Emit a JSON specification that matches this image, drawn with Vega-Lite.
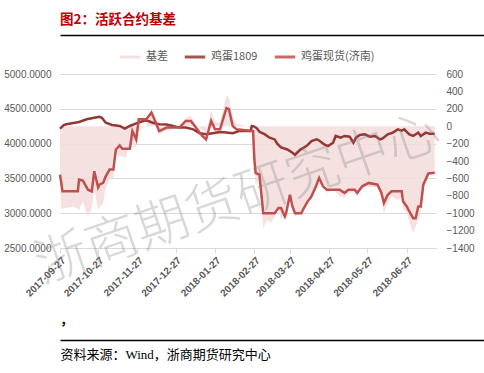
{
  "$schema": "https://vega.github.io/schema/vega-lite/v6.json",
  "padding": {"top": 12, "left": 3, "right": 3, "bottom": 3},
  "background": "white",
  "spacing": 10,
  "resolve": {"scale": {"color": "independent"}, "legend": {"color": "independent"}},
  "config": {"view": {"stroke": null}, "font": "Liberation Sans"},
  "datasets": {
    "lines": [
      {"d":"2017-09-27","s":"鸡蛋1809","v":4215},{"d":"2017-09-30","s":"鸡蛋1809","v":4265},{"d":"2017-10-02","s":"鸡蛋1809","v":4278},{"d":"2017-10-12","s":"鸡蛋1809","v":4310},{"d":"2017-10-18","s":"鸡蛋1809","v":4350},{"d":"2017-10-25","s":"鸡蛋1809","v":4375},{"d":"2017-10-28","s":"鸡蛋1809","v":4385},{"d":"2017-10-30","s":"鸡蛋1809","v":4370},{"d":"2017-11-02","s":"鸡蛋1809","v":4300},{"d":"2017-11-07","s":"鸡蛋1809","v":4267},{"d":"2017-11-13","s":"鸡蛋1809","v":4253},{"d":"2017-11-17","s":"鸡蛋1809","v":4215},{"d":"2017-11-21","s":"鸡蛋1809","v":4253},{"d":"2017-11-26","s":"鸡蛋1809","v":4290},{"d":"2017-11-29","s":"鸡蛋1809","v":4310},{"d":"2017-12-04","s":"鸡蛋1809","v":4335},{"d":"2017-12-09","s":"鸡蛋1809","v":4300},{"d":"2017-12-14","s":"鸡蛋1809","v":4278},{"d":"2017-12-20","s":"鸡蛋1809","v":4275},{"d":"2017-12-25","s":"鸡蛋1809","v":4253},{"d":"2017-12-30","s":"鸡蛋1809","v":4230},{"d":"2018-01-04","s":"鸡蛋1809","v":4230},{"d":"2018-01-10","s":"鸡蛋1809","v":4205},{"d":"2018-01-15","s":"鸡蛋1809","v":4148},{"d":"2018-01-20","s":"鸡蛋1809","v":4133},{"d":"2018-01-25","s":"鸡蛋1809","v":4148},{"d":"2018-01-31","s":"鸡蛋1809","v":4167},{"d":"2018-02-05","s":"鸡蛋1809","v":4158},{"d":"2018-02-10","s":"鸡蛋1809","v":4148},{"d":"2018-02-15","s":"鸡蛋1809","v":4180},{"d":"2018-02-20","s":"鸡蛋1809","v":4180},{"d":"2018-02-24","s":"鸡蛋1809","v":4180},{"d":"2018-02-25","s":"鸡蛋1809","v":4253},{"d":"2018-02-27","s":"鸡蛋1809","v":4245},{"d":"2018-03-01","s":"鸡蛋1809","v":4220},{"d":"2018-03-03","s":"鸡蛋1809","v":4170},{"d":"2018-03-07","s":"鸡蛋1809","v":4135},{"d":"2018-03-11","s":"鸡蛋1809","v":4085},{"d":"2018-03-15","s":"鸡蛋1809","v":4060},{"d":"2018-03-17","s":"鸡蛋1809","v":4000},{"d":"2018-03-20","s":"鸡蛋1809","v":3945},{"d":"2018-03-25","s":"鸡蛋1809","v":3916},{"d":"2018-03-29","s":"鸡蛋1809","v":3868},{"d":"2018-03-31","s":"鸡蛋1809","v":3840},{"d":"2018-04-04","s":"鸡蛋1809","v":3910},{"d":"2018-04-09","s":"鸡蛋1809","v":3964},{"d":"2018-04-13","s":"鸡蛋1809","v":4037},{"d":"2018-04-17","s":"鸡蛋1809","v":4060},{"d":"2018-04-19","s":"鸡蛋1809","v":4045},{"d":"2018-04-23","s":"鸡蛋1809","v":3988},{"d":"2018-04-26","s":"鸡蛋1809","v":3964},{"d":"2018-04-30","s":"鸡蛋1809","v":4013},{"d":"2018-05-02","s":"鸡蛋1809","v":4110},{"d":"2018-05-06","s":"鸡蛋1809","v":4085},{"d":"2018-05-09","s":"鸡蛋1809","v":4110},{"d":"2018-05-13","s":"鸡蛋1809","v":4100},{"d":"2018-05-16","s":"鸡蛋1809","v":4013},{"d":"2018-05-18","s":"鸡蛋1809","v":4085},{"d":"2018-05-21","s":"鸡蛋1809","v":4123},{"d":"2018-05-25","s":"鸡蛋1809","v":4133},{"d":"2018-05-29","s":"鸡蛋1809","v":4100},{"d":"2018-06-02","s":"鸡蛋1809","v":4110},{"d":"2018-06-06","s":"鸡蛋1809","v":4060},{"d":"2018-06-08","s":"鸡蛋1809","v":4075},{"d":"2018-06-12","s":"鸡蛋1809","v":4133},{"d":"2018-06-16","s":"鸡蛋1809","v":4158},{"d":"2018-06-20","s":"鸡蛋1809","v":4205},{"d":"2018-06-23","s":"鸡蛋1809","v":4185},{"d":"2018-06-25","s":"鸡蛋1809","v":4205},{"d":"2018-06-29","s":"鸡蛋1809","v":4133},{"d":"2018-07-02","s":"鸡蛋1809","v":4110},{"d":"2018-07-06","s":"鸡蛋1809","v":4158},{"d":"2018-07-08","s":"鸡蛋1809","v":4110},{"d":"2018-07-12","s":"鸡蛋1809","v":4158},{"d":"2018-07-15","s":"鸡蛋1809","v":4140},{"d":"2018-07-19","s":"鸡蛋1809","v":4140},
      {"d":"2017-09-27","s":"鸡蛋现货(济南)","v":3555},{"d":"2017-09-29","s":"鸡蛋现货(济南)","v":3314},{"d":"2017-10-11","s":"鸡蛋现货(济南)","v":3314},{"d":"2017-10-12","s":"鸡蛋现货(济南)","v":3483},{"d":"2017-10-15","s":"鸡蛋现货(济南)","v":3470},{"d":"2017-10-19","s":"鸡蛋现货(济南)","v":3338},{"d":"2017-10-22","s":"鸡蛋现货(济南)","v":3314},{"d":"2017-10-24","s":"鸡蛋现货(济南)","v":3603},{"d":"2017-10-27","s":"鸡蛋现货(济南)","v":3370},{"d":"2017-10-28","s":"鸡蛋现货(济南)","v":3410},{"d":"2017-10-31","s":"鸡蛋现货(济南)","v":3435},{"d":"2017-11-02","s":"鸡蛋现货(济南)","v":3530},{"d":"2017-11-05","s":"鸡蛋现货(济南)","v":3627},{"d":"2017-11-08","s":"鸡蛋现货(济南)","v":3627},{"d":"2017-11-10","s":"鸡蛋现货(济南)","v":3916},{"d":"2017-11-13","s":"鸡蛋现货(济南)","v":3974},{"d":"2017-11-15","s":"鸡蛋现货(济南)","v":3926},{"d":"2017-11-21","s":"鸡蛋现货(济南)","v":3926},{"d":"2017-11-23","s":"鸡蛋现货(济南)","v":4180},{"d":"2017-11-26","s":"鸡蛋现货(济南)","v":4060},{"d":"2017-11-28","s":"鸡蛋现货(济南)","v":4350},{"d":"2017-12-04","s":"鸡蛋现货(济南)","v":4350},{"d":"2017-12-08","s":"鸡蛋现货(济南)","v":4446},{"d":"2017-12-12","s":"鸡蛋现货(济南)","v":4278},{"d":"2017-12-14","s":"鸡蛋现货(济南)","v":4180},{"d":"2017-12-20","s":"鸡蛋现货(济南)","v":4230},{"d":"2017-12-30","s":"鸡蛋现货(济南)","v":4230},{"d":"2018-01-04","s":"鸡蛋现货(济南)","v":4325},{"d":"2018-01-08","s":"鸡蛋现货(济南)","v":4325},{"d":"2018-01-12","s":"鸡蛋现货(济南)","v":4230},{"d":"2018-01-17","s":"鸡蛋现货(济南)","v":4110},{"d":"2018-01-20","s":"鸡蛋现货(济南)","v":4060},{"d":"2018-01-24","s":"鸡蛋现货(济南)","v":4325},{"d":"2018-01-27","s":"鸡蛋现货(济南)","v":4205},{"d":"2018-01-31","s":"鸡蛋现货(济南)","v":4205},{"d":"2018-02-05","s":"鸡蛋现货(济南)","v":4510},{"d":"2018-02-07","s":"鸡蛋现货(济南)","v":4495},{"d":"2018-02-10","s":"鸡蛋现货(济南)","v":4253},{"d":"2018-02-13","s":"鸡蛋现货(济南)","v":4205},{"d":"2018-02-26","s":"鸡蛋现货(济南)","v":4180},{"d":"2018-02-27","s":"鸡蛋现货(济南)","v":3772},{"d":"2018-02-28","s":"鸡蛋现货(济南)","v":3580},{"d":"2018-03-03","s":"鸡蛋现货(济南)","v":3555},{"d":"2018-03-06","s":"鸡蛋现货(济南)","v":3001},{"d":"2018-03-15","s":"鸡蛋现货(济南)","v":3001},{"d":"2018-03-18","s":"鸡蛋现货(济南)","v":3074},{"d":"2018-03-20","s":"鸡蛋现货(济南)","v":3074},{"d":"2018-03-23","s":"鸡蛋现货(济南)","v":2953},{"d":"2018-03-24","s":"鸡蛋现货(济南)","v":3001},{"d":"2018-03-27","s":"鸡蛋现货(济南)","v":3266},{"d":"2018-03-29","s":"鸡蛋现货(济南)","v":3097},{"d":"2018-03-31","s":"鸡蛋现货(济南)","v":3001},{"d":"2018-04-05","s":"鸡蛋现货(济南)","v":3001},{"d":"2018-04-07","s":"鸡蛋现货(济南)","v":3074},{"d":"2018-04-10","s":"鸡蛋现货(济南)","v":3170},{"d":"2018-04-13","s":"鸡蛋现货(济南)","v":3242},{"d":"2018-04-17","s":"鸡蛋现货(济南)","v":3410},{"d":"2018-04-19","s":"鸡蛋现货(济南)","v":3507},{"d":"2018-04-22","s":"鸡蛋现货(济南)","v":3386},{"d":"2018-04-25","s":"鸡蛋现货(济南)","v":3338},{"d":"2018-05-05","s":"鸡蛋现货(济南)","v":3338},{"d":"2018-05-09","s":"鸡蛋现货(济南)","v":3292},{"d":"2018-05-12","s":"鸡蛋现货(济南)","v":3338},{"d":"2018-05-17","s":"鸡蛋现货(济南)","v":3338},{"d":"2018-05-19","s":"鸡蛋现货(济南)","v":3292},{"d":"2018-05-23","s":"鸡蛋现货(济南)","v":3386},{"d":"2018-05-28","s":"鸡蛋现货(济南)","v":3435},{"d":"2018-06-04","s":"鸡蛋现货(济南)","v":3410},{"d":"2018-06-07","s":"鸡蛋现货(济南)","v":3292},{"d":"2018-06-09","s":"鸡蛋现货(济南)","v":3146},{"d":"2018-06-12","s":"鸡蛋现货(济南)","v":3266},{"d":"2018-06-15","s":"鸡蛋现货(济南)","v":3314},{"d":"2018-06-23","s":"鸡蛋现货(济南)","v":3314},{"d":"2018-06-24","s":"鸡蛋现货(济南)","v":3170},{"d":"2018-06-27","s":"鸡蛋现货(济南)","v":3097},{"d":"2018-06-29","s":"鸡蛋现货(济南)","v":3025},{"d":"2018-07-02","s":"鸡蛋现货(济南)","v":2929},{"d":"2018-07-04","s":"鸡蛋现货(济南)","v":2929},{"d":"2018-07-06","s":"鸡蛋现货(济南)","v":3097},{"d":"2018-07-08","s":"鸡蛋现货(济南)","v":3097},{"d":"2018-07-10","s":"鸡蛋现货(济南)","v":3410},{"d":"2018-07-14","s":"鸡蛋现货(济南)","v":3570},{"d":"2018-07-19","s":"鸡蛋现货(济南)","v":3580}
    ],
    "basis": [
      {"d":"2017-09-27","s":"基差","v":-700},{"d":"2017-09-28","s":"基差","v":-950},{"d":"2017-10-01","s":"基差","v":-941},{"d":"2017-10-08","s":"基差","v":-922},{"d":"2017-10-12","s":"基差","v":-961},{"d":"2017-10-15","s":"基差","v":-865},{"d":"2017-10-19","s":"基差","v":-1038},{"d":"2017-10-22","s":"基差","v":-950},{"d":"2017-10-24","s":"基差","v":-729},{"d":"2017-10-27","s":"基差","v":-961},{"d":"2017-10-31","s":"基差","v":-883},{"d":"2017-11-02","s":"基差","v":-710},{"d":"2017-11-05","s":"基差","v":-614},{"d":"2017-11-08","s":"基差","v":-600},{"d":"2017-11-10","s":"基差","v":-320},{"d":"2017-11-14","s":"基差","v":-344},{"d":"2017-11-18","s":"基差","v":-363},{"d":"2017-11-21","s":"基差","v":-190},{"d":"2017-11-26","s":"基差","v":-248},{"d":"2017-11-28","s":"基差","v":-52},{"d":"2017-12-04","s":"基差","v":10},{"d":"2017-12-08","s":"基差","v":150},{"d":"2017-12-12","s":"基差","v":0},{"d":"2017-12-14","s":"基差","v":-100},{"d":"2017-12-20","s":"基差","v":-45},{"d":"2017-12-25","s":"基差","v":-23},{"d":"2017-12-30","s":"基差","v":0},{"d":"2018-01-04","s":"基差","v":95},{"d":"2018-01-08","s":"基差","v":120},{"d":"2018-01-12","s":"基差","v":20},{"d":"2018-01-17","s":"基差","v":-40},{"d":"2018-01-20","s":"基差","v":-75},{"d":"2018-01-24","s":"基差","v":180},{"d":"2018-01-27","s":"基差","v":50},{"d":"2018-01-31","s":"基差","v":40},{"d":"2018-02-05","s":"基差","v":350},{"d":"2018-02-07","s":"基差","v":330},{"d":"2018-02-10","s":"基差","v":100},{"d":"2018-02-13","s":"基差","v":25},{"d":"2018-02-22","s":"基差","v":0},{"d":"2018-02-26","s":"基差","v":-70},{"d":"2018-02-27","s":"基差","v":-470},{"d":"2018-02-28","s":"基差","v":-670},{"d":"2018-03-03","s":"基差","v":-620},{"d":"2018-03-06","s":"基差","v":-1172},{"d":"2018-03-09","s":"基差","v":-1076},{"d":"2018-03-12","s":"基差","v":-1114},{"d":"2018-03-15","s":"基差","v":-1038},{"d":"2018-03-18","s":"基差","v":-930},{"d":"2018-03-20","s":"基差","v":-1076},{"d":"2018-03-23","s":"基差","v":-990},{"d":"2018-03-24","s":"基差","v":-1080},{"d":"2018-03-27","s":"基差","v":-780},{"d":"2018-03-29","s":"基差","v":-860},{"d":"2018-03-31","s":"基差","v":-1038},{"d":"2018-04-05","s":"基差","v":-1000},{"d":"2018-04-07","s":"基差","v":-961},{"d":"2018-04-10","s":"基差","v":-870},{"d":"2018-04-13","s":"基差","v":-845},{"d":"2018-04-17","s":"基差","v":-650},{"d":"2018-04-19","s":"基差","v":-614},{"d":"2018-04-22","s":"基差","v":-660},{"d":"2018-04-25","s":"基差","v":-767},{"d":"2018-04-30","s":"基差","v":-720},{"d":"2018-05-05","s":"基差","v":-806},{"d":"2018-05-09","s":"基差","v":-820},{"d":"2018-05-12","s":"基差","v":-770},{"d":"2018-05-17","s":"基差","v":-760},{"d":"2018-05-19","s":"基差","v":-800},{"d":"2018-05-23","s":"基差","v":-691},{"d":"2018-05-28","s":"基差","v":-700},{"d":"2018-06-04","s":"基差","v":-700},{"d":"2018-06-07","s":"基差","v":-800},{"d":"2018-06-09","s":"基差","v":-999},{"d":"2018-06-12","s":"基差","v":-870},{"d":"2018-06-15","s":"基差","v":-806},{"d":"2018-06-20","s":"基差","v":-850},{"d":"2018-06-23","s":"基差","v":-806},{"d":"2018-06-24","s":"基差","v":-950},{"d":"2018-06-27","s":"基差","v":-999},{"d":"2018-06-29","s":"基差","v":-1100},{"d":"2018-07-02","s":"基差","v":-1230},{"d":"2018-07-04","s":"基差","v":-1153},{"d":"2018-07-06","s":"基差","v":-1076},{"d":"2018-07-08","s":"基差","v":-1000},{"d":"2018-07-10","s":"基差","v":-691},{"d":"2018-07-14","s":"基差","v":-556},{"d":"2018-07-19","s":"基差","v":-536}
    ],
    "one": [{"a": 0}]
  },
  "vconcat": [
    {
      "width": 477, "height": 1,
      "data": {"name": "one"},
      "title": {"text": "图2：活跃合约基差", "anchor": "start", "color": "#C00000", "fontSize": 13.5, "fontWeight": "bold", "font": "Noto Sans CJK SC", "offset": 8},
      "mark": {"type": "tick", "opacity": 0},
      "encoding": {"x": {"field": "a", "type": "quantitative", "axis": {"domain": true, "domainColor": "#000000", "domainWidth": 1.5, "labels": false, "ticks": false, "grid": false, "title": null}}}
    },
    {
      "spacing": 15,
      "resolve": {"scale": {"color": "independent"}, "legend": {"color": "independent"}},
      "vconcat": [
        {
          "width": 376, "height": 174,
          "layer": [
            {
              "data": {"name": "basis"},
              "mark": {"type": "area", "opacity": 0.85},
              "encoding": {
                "x": {"field": "d", "type": "temporal",
                  "scale": {"type": "utc", "domain": [{"year": 2017, "month": 9, "date": 27, "utc": true}, {"year": 2018, "month": 7, "date": 20, "utc": true}]},
                  "axis": {"title": null, "format": "%Y-%m-%d", "labelAngle": -45, "labelOverlap": false, "labelFontSize": 10, "labelFontWeight": "bold", "labelColor": "#595959", "labelFont": "Liberation Sans", "grid": false, "domainColor": "#D9D9D9", "tickColor": "#D9D9D9", "tickSize": 5, "labelPadding": 2,
                    "values": [{"year":2017,"month":9,"date":27,"utc":true},{"year":2017,"month":10,"date":27,"utc":true},{"year":2017,"month":11,"date":27,"utc":true},{"year":2017,"month":12,"date":27,"utc":true},{"year":2018,"month":1,"date":27,"utc":true},{"year":2018,"month":2,"date":27,"utc":true},{"year":2018,"month":3,"date":27,"utc":true},{"year":2018,"month":4,"date":27,"utc":true},{"year":2018,"month":5,"date":27,"utc":true},{"year":2018,"month":6,"date":27,"utc":true}]}},
                "y": {"field": "v", "type": "quantitative", "scale": {"domain": [-1400, 600], "nice": false},
                  "axis": {"orient": "right", "title": null, "format": "d", "values": [-1400,-1200,-1000,-800,-600,-400,-200,0,200,400,600], "labelOverlap": false, "domain": false, "ticks": false, "grid": false, "labelPadding": 10, "labelFontSize": 10, "labelColor": "#595959", "labelFont": "Liberation Sans"}},
                "color": {"field": "s", "type": "nominal",
                  "scale": {"domain": ["基差", "鸡蛋1809", "鸡蛋现货(济南)"], "range": ["#F2DCDB", "#953735", "#C0504D"]},
                  "legend": {"orient": "none", "legendX": 58, "legendY": -29, "direction": "horizontal", "title": null, "symbolType": "M-1,0H1", "symbolSize": 420, "symbolStrokeWidth": 3, "labelFontSize": 11, "labelColor": "#595959", "labelFont": "Noto Sans CJK SC", "columnPadding": 10, "labelOffset": 4,
                    "encode": {"symbols": {"update": {"stroke": {"scale": "color", "field": "value"}, "strokeWidth": {"signal": "datum.value === '基差' ? 8 : 3"}, "opacity": {"value": 1}}}}}}
              }
            },
            {
              "data": {"name": "lines"},
              "mark": {"type": "line", "strokeWidth": 2.5},
              "encoding": {
                "x": {"field": "d", "type": "temporal"},
                "y": {"field": "v", "type": "quantitative", "scale": {"domain": [2500, 5000], "nice": false, "zero": false},
                  "axis": {"orient": "left", "title": null, "values": [2500,3000,3500,4000,4500,5000], "labelOverlap": false, "format": ".4f", "domain": false, "ticks": false, "grid": true, "gridColor": "#D9D9D9", "labelPadding": 9, "labelFontSize": 10, "labelColor": "#595959", "labelFont": "Liberation Sans"}},
                "color": {"field": "s", "type": "nominal"}
              }
            },
            {
              "data": {"name": "one"},
              "mark": {"type": "text", "text": "浙商期货研究中心", "angle": -19, "fontSize": 53, "font": "Noto Sans CJK SC", "fontWeight": 300, "color": "#808080", "opacity": 0.3, "align": "center", "baseline": "middle", "clip": false},
              "encoding": {
                "x": {"datum": {"year": 2018, "month": 2, "date": 14, "utc": true}, "type": "temporal"},
                "y": {"datum": 3200, "type": "quantitative", "scale": {"domain": [2500, 5000], "nice": false, "zero": false}, "axis": null}
              }
            }
          ],
          "resolve": {"scale": {"y": "independent"}}
        },
        {
          "width": 477, "height": 1,
          "data": {"name": "one"},
          "title": {"text": "，", "anchor": "start", "color": "#000000", "fontSize": 13, "fontWeight": "bold", "font": "Noto Sans CJK SC", "offset": 12},
          "mark": {"type": "tick", "opacity": 0},
          "encoding": {"x": {"field": "a", "type": "quantitative", "axis": {"domain": true, "domainColor": "#000000", "domainWidth": 1.5, "labels": false, "ticks": false, "grid": false, "title": "资料来源：Wind，浙商期货研究中心", "titleAnchor": "start", "titleFont": "Liberation Serif, Noto Sans CJK SC", "titleFontSize": 13, "titleFontWeight": "normal", "titleColor": "#000000", "titlePadding": 8}}}
        }
      ]
    }
  ]
}
